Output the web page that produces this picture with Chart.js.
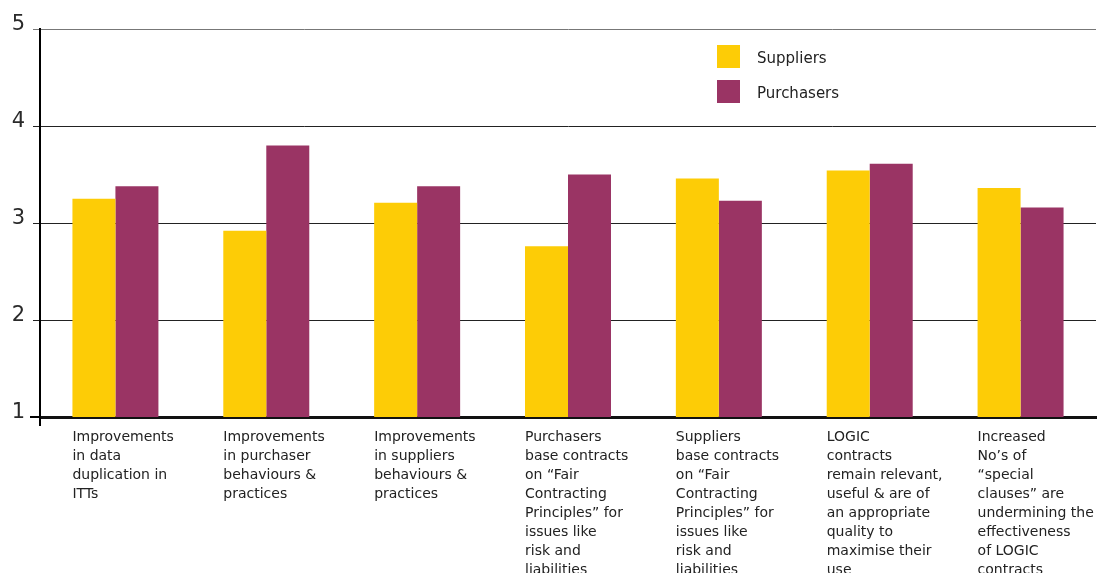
<!DOCTYPE html>
<html>
<head>
<meta charset="utf-8">
<style>
  html, body { margin: 0; padding: 0; background: #fff; }
  #wrap { width: 1105px; height: 573px; position: relative; }
</style>
<script src="https://cdn.jsdelivr.net/npm/chart.js@4/dist/chart.umd.min.js"></script>
</head>
<body>
<div id="wrap"><canvas id="chart"></canvas></div>
<script>
// category labels, one array of lines per group
const categories = [
    ['Improvements', 'in data', 'duplication in', 'ITTs'],
    ['Improvements', 'in purchaser', 'behaviours &', 'practices'],
    ['Improvements', 'in suppliers', 'behaviours &', 'practices'],
    ['Purchasers', 'base contracts', 'on \u201cFair', 'Contracting', 'Principles\u201d for', 'issues like', 'risk and', 'liabilities'],
    ['Suppliers', 'base contracts', 'on \u201cFair', 'Contracting', 'Principles\u201d for', 'issues like', 'risk and', 'liabilities'],
    ['LOGIC', 'contracts', 'remain relevant,', 'useful & are of', 'an appropriate', 'quality to', 'maximise their', 'use'],
    ['Increased', 'No\u2019s of', '\u201cspecial', 'clauses\u201d are', 'undermining the', 'effectiveness', 'of LOGIC', 'contracts']
];
const suppliers = [3.25, 2.92, 3.21, 2.76, 3.46, 3.54, 3.36];
const purchasers = [3.38, 3.80, 3.38, 3.50, 3.23, 3.61, 3.16];
const yTicks = [1, 2, 3, 4, 5];

const YELLOW = '#FDCC06';
const PURPLE = '#9A3464';
const TEXT = '#222';

// draws the wrapped category labels, left aligned to the first bar of each group
const categoryLabels = {
    id: 'categoryLabels',
    afterDraw(chart) {
        const ctx = chart.ctx;
        const bars = chart.getDatasetMeta(0).data;
        const area = chart.chartArea;
        ctx.save();
        ctx.fillStyle = TEXT;
        ctx.font = "14px 'DejaVu Sans', sans-serif";
        ctx.textAlign = 'left';
        ctx.textBaseline = 'alphabetic';
        categories.forEach((lines, i) => {
            const bar = bars[i];
            const left = bar.x - bar.width / 2;
            lines.forEach((line, j) => {
                ctx.fillText(line, left, area.bottom + 24 + j * 19);
            });
        });
        // axis runs a little past the baseline
        ctx.strokeStyle = '#000';
        ctx.lineWidth = 2;
        ctx.beginPath();
        ctx.moveTo(area.left, area.bottom);
        ctx.lineTo(area.left, area.bottom + 9);
        ctx.moveTo(area.left - 10, area.bottom);
        ctx.lineTo(area.left, area.bottom);
        ctx.stroke();
        ctx.restore();
    }
};

// legend inside the plot, stacked
const boxLegend = {
    id: 'boxLegend',
    afterDraw(chart) {
        const ctx = chart.ctx;
        ctx.save();
        ctx.font = "15px 'DejaVu Sans', sans-serif";
        ctx.textBaseline = 'alphabetic';
        ctx.textAlign = 'left';
        chart.data.datasets.forEach((ds, i) => {
            const top = 45 + i * 35;
            ctx.fillStyle = ds.backgroundColor;
            ctx.fillRect(717, top, 23, 23);
            ctx.fillStyle = TEXT;
            ctx.fillText(ds.label, 757, top + 18);
        });
        ctx.restore();
    }
};

new Chart(document.getElementById('chart'), {
    type: 'bar',
    data: {
        labels: categories.map(c => c.join(' ')),
        datasets: [
            { label: 'Suppliers', data: suppliers, backgroundColor: YELLOW, borderWidth: 0,
              categoryPercentage: 0.57, barPercentage: 1 },
            { label: 'Purchasers', data: purchasers, backgroundColor: PURPLE, borderWidth: 0,
              categoryPercentage: 0.57, barPercentage: 1 }
        ]
    },
    options: {
        responsive: true,
        maintainAspectRatio: false,
        animation: false,
        layout: { padding: { top: 29, right: 9, left: 0, bottom: 0 } },
        plugins: {
            legend: { display: false },
            tooltip: { enabled: false }
        },
        scales: {
            x: {
                grid: { display: false },
                border: { display: true, color: '#111', width: 3 },
                ticks: { display: false },
                afterFit(scale) { scale.height = 156; }
            },
            y: {
                min: yTicks[0],
                max: yTicks[yTicks.length - 1],
                afterBuildTicks(scale) { scale.ticks = yTicks.map(v => ({ value: v })); },
                grid: {
                    color: ctx => ctx.tick && ctx.tick.value === 5 ? '#777' : '#222',
                    lineWidth: 1,
                    tickLength: 7
                },
                border: { display: true, color: '#000', width: 2 },
                ticks: {
                    color: '#2a2a2a',
                    font: { family: "'DejaVu Sans', sans-serif", size: 21 },
                    padding: 8,
                    labelOffset: -4
                },
                afterFit(scale) { scale.width = 40; }
            }
        }
    },
    plugins: [categoryLabels, boxLegend]
});
</script>
</body>
</html>
